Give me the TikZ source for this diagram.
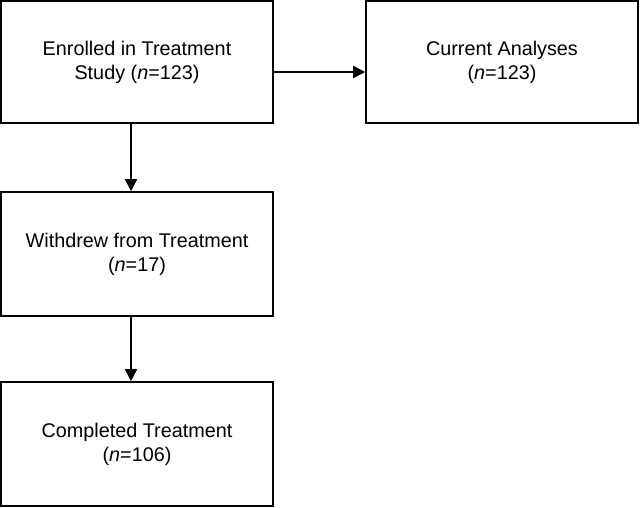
\documentclass[tikz,border=0pt]{standalone}
\usepackage{fontspec}
\setmainfont{Liberation Sans}
\usetikzlibrary{arrows.meta}
\begin{document}
\begin{tikzpicture}[x=1pt,y=-1pt,
  box/.style={draw, line width=1.6pt, minimum width=272pt, inner sep=0pt,
    align=center, font=\fontsize{19.8}{24}\selectfont},
  conn/.style={line width=1.6pt, -{Triangle[length=12pt,width=12pt]}}]
\useasboundingbox (0,0) rectangle (640,507);
\node[box, minimum height=122pt] (enrol) at (137,62) {Enrolled in Treatment\\Study (\textit{n}=123)};
\node[box, minimum height=122pt] (curr) at (502,62) {Current Analyses\\(\textit{n}=123)};
\node[box, minimum height=124pt] (withd) at (137,254) {Withdrew from Treatment\\(\textit{n}=17)};
\node[box, minimum height=124pt] (compl) at (137,444) {Completed Treatment\\(\textit{n}=106)};
\draw[conn] ([xshift=-6pt]enrol.south) -- ([xshift=-6pt]withd.north);
\draw[conn] ([xshift=-6pt]withd.south) -- ([xshift=-6pt]compl.north);
\draw[conn] ([yshift=-10pt]enrol.east) -- ([yshift=-10pt]curr.west);
\end{tikzpicture}
\end{document}
